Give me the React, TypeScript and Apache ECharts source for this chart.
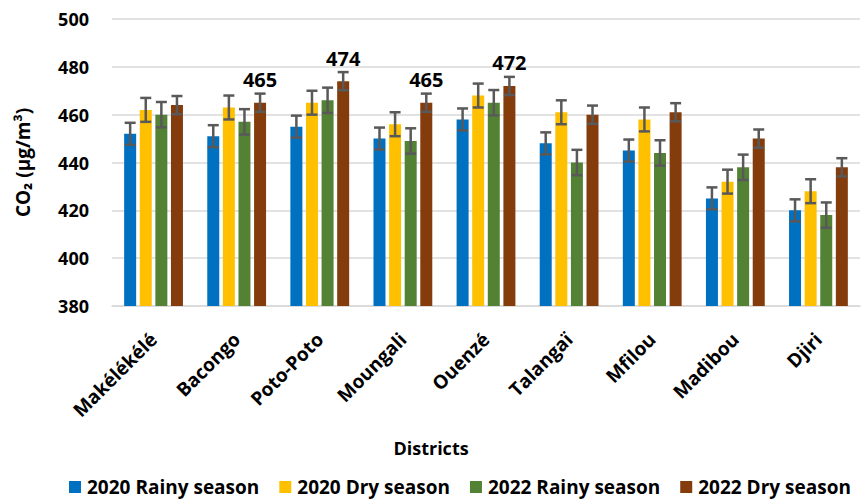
import React, { useEffect, useRef } from "react";
import * as echarts from "echarts";

const categories = ["Makélékélé", "Bacongo", "Poto-Poto", "Moungali", "Ouenzé", "Talangaï", "Mfilou", "Madibou", "Djiri"];
const seriesNames = ["2020 Rainy season", "2020 Dry season", "2022 Rainy season", "2022 Dry season"];
const rainy2020 = [452, 451, 455, 450, 458, 448, 445, 425, 420];
const dry2020 = [462, 463, 465, 456, 468, 461, 458, 432, 428];
const rainy2022 = [460, 457, 466, 449, 465, 440, 444, 438, 418];
const dry2022 = [464, 465, 474, 465, 472, 460, 461, 450, 438];
const errRainy2020 = [4.6, 4.6, 4.6, 4.6, 4.6, 4.6, 4.6, 4.6, 4.6];
const errDry2020 = [5, 5, 5, 5, 5, 5, 5, 5, 5];
const errRainy2022 = [5.3, 5.3, 5.3, 5.3, 5.3, 5.3, 5.3, 5.3, 5.3];
const errDry2022 = [3.8, 3.8, 3.8, 3.8, 3.8, 3.8, 3.8, 3.8, 3.8];
const labelledDry2022 = ["Bacongo", "Poto-Poto", "Moungali", "Ouenzé"];
const yTicks = { min: 380, max: 500, interval: 20 };

const colors = ["#0070C0", "#FFC000", "#548235", "#843C0C"];
const FONT = "'Open Sans', sans-serif";
const BAR_W = 12;
const BAR_GAP = 0.3;

export default function App() {
  const ref = useRef<HTMLDivElement>(null);
  useEffect(() => {
    if (!ref.current) return;
    const chart = echarts.init(ref.current, null, { renderer: "svg" });
    const values = [rainy2020, dry2020, rainy2022, dry2022];
    const errs = [errRainy2020, errDry2020, errRainy2022, errDry2022];

    const barSeries = values.map((vals, si) => ({
      type: "bar",
      name: seriesNames[si],
      barWidth: BAR_W,
      barGap: `${BAR_GAP * 100}%`,
      itemStyle: { color: colors[si] },
      data: vals.map((v, i) => {
        if (si === 3 && labelledDry2022.includes(categories[i])) {
          return {
            value: v,
            label: {
              show: true,
              position: "top",
              distance: 13,
              fontFamily: FONT,
              fontWeight: "bold",
              fontSize: 20,
              color: "#000",
            },
          };
        }
        return v;
      }),
    }));

    const totalW = 4 * BAR_W + 3 * BAR_W * BAR_GAP;
    const errSeries = values.map((vals, si) => ({
      type: "custom",
      name: seriesNames[si] + " err",
      z: 5,
      silent: true,
      data: vals.map((v, i) => [i, v, errs[si][i]]),
      encode: { x: 0, y: 1 },
      renderItem: (params: any, api: any) => {
        const idx = api.value(0);
        const v = api.value(1);
        const e = api.value(2);
        const off = -totalW / 2 + si * BAR_W * (1 + BAR_GAP) + BAR_W / 2;
        const c = api.coord([idx, v]);
        const x = c[0] + off;
        const yt = api.coord([idx, v + e])[1];
        const yb = api.coord([idx, v - e])[1];
        const st = { stroke: "#595959", lineWidth: 2.5 };
        const cap = 5.5;
        return {
          type: "group",
          children: [
            { type: "line", shape: { x1: x, y1: yt, x2: x, y2: yb }, style: st },
            { type: "line", shape: { x1: x - cap, y1: yt, x2: x + cap, y2: yt }, style: st },
            { type: "line", shape: { x1: x - cap, y1: yb, x2: x + cap, y2: yb }, style: st },
          ],
        };
      },
    }));

    chart.setOption({
      animation: false,
      grid: { left: 112, right: 7, top: 19, bottom: 195, containLabel: false },
      legend: {
        data: seriesNames,
        left: 64,
        top: 472,
        itemWidth: 12,
        itemHeight: 12,
        itemGap: 20,
        icon: "rect",
        textStyle: { fontFamily: FONT, fontWeight: "bold", fontSize: 19, lineHeight: 20, color: "#000", padding: [0, 0, 0, 1] },
      },
      xAxis: {
        type: "category",
        data: categories,
        axisLine: { lineStyle: { color: "#D9D9D9", width: 1.5 } },
        axisTick: { show: false },
        axisLabel: {
          rotate: 45,
          interval: 0,
          margin: 30,
          fontFamily: FONT,
          fontWeight: "bold",
          fontSize: 19,
          color: "#000",
        },
      },
      yAxis: {
        type: "value",
        min: yTicks.min,
        max: yTicks.max,
        interval: yTicks.interval,
        name: "CO₂ (µg/m³)",
        nameLocation: "middle",
        nameRotate: 90,
        nameGap: 80,
        nameTextStyle: { fontFamily: FONT, fontWeight: "bold", fontSize: 19, color: "#000" },
        axisLine: { show: false },
        axisTick: { show: false },
        splitLine: { lineStyle: { color: "#D9D9D9", width: 1.5 } },
        axisLabel: { margin: 23, fontFamily: FONT, fontWeight: "bold", fontSize: 18, color: "#000" },
      },
      graphic: [
        {
          type: "text",
          x: 431,
          y: 448,
          style: {
            text: "Districts",
            textAlign: "center",
            textVerticalAlign: "middle",
            align: "center",
            verticalAlign: "middle",
            fontFamily: FONT,
            fontWeight: "bold",
            fontSize: 18,
            fill: "#000",
          },
        },
      ],
      series: [...barSeries, ...errSeries],
    });
    return () => chart.dispose();
  }, []);
  return <div ref={ref} style={{ position: "absolute", left: 0, top: 0, width: 867, height: 501 }} />;
}
